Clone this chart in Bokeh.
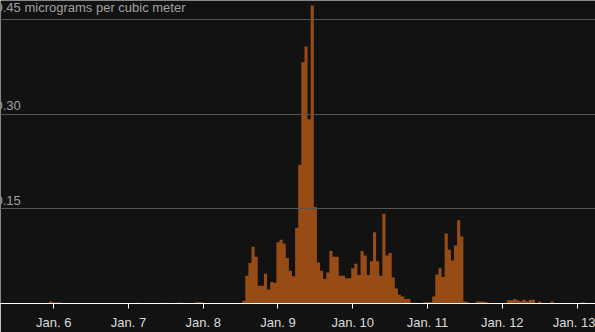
from bokeh.plotting import figure
from bokeh.models import Range1d, FixedTicker, Label, ColumnDataSource
from bokeh.embed import file_html
from bokeh.resources import INLINE

# Hourly concentration, index 0 = Jan. 5 00:00
values = [0.0] * 200
readings = {
    23: 0.003, 24: 0.0015, 25: 0.0015, 26: 0.0015,
    51: 0.001, 59: 0.001, 64: 0.001, 65: 0.001,
    70: 0.002, 71: 0.002, 72: 0.001,
    85: 0.004, 86: 0.044, 87: 0.064, 88: 0.090, 89: 0.074, 90: 0.028,
    91: 0.028, 92: 0.047, 93: 0.022, 94: 0.034, 95: 0.033,
    96: 0.097, 97: 0.101, 98: 0.095, 99: 0.072, 100: 0.052, 101: 0.043,
    102: 0.120, 103: 0.220, 104: 0.382, 105: 0.407, 106: 0.292, 107: 0.472,
    108: 0.153, 109: 0.065, 110: 0.052, 111: 0.039, 112: 0.049, 113: 0.083,
    114: 0.074, 115: 0.074, 116: 0.044, 117: 0.044, 118: 0.040, 119: 0.040,
    120: 0.056, 121: 0.063, 122: 0.045, 123: 0.083, 124: 0.076, 125: 0.045,
    126: 0.067, 127: 0.113, 128: 0.067, 129: 0.044, 130: 0.142, 131: 0.076,
    132: 0.080, 133: 0.041, 134: 0.024, 135: 0.014, 136: 0.011, 137: 0.007,
    138: 0.007, 139: 0.001, 140: 0.001, 143: 0.002, 144: 0.002, 145: 0.002,
    146: 0.011, 147: 0.046, 148: 0.056, 149: 0.042, 150: 0.111, 151: 0.085,
    152: 0.068, 153: 0.092, 154: 0.132, 155: 0.106, 156: 0.003, 157: 0.002,
    160: 0.003, 161: 0.003, 162: 0.003, 163: 0.002,
    170: 0.005, 171: 0.005, 172: 0.007, 173: 0.005, 174: 0.003, 175: 0.006,
    176: 0.003, 177: 0.006, 178: 0.006, 180: 0.003, 184: 0.003, 194: 0.002,
}
for k, v in readings.items():
    values[k] = v
hours = list(range(len(values)))

tick_hours = [24, 48, 72, 96, 120, 144, 168, 192]
tick_labels = ["Jan. 6", "Jan. 7", "Jan. 8", "Jan. 9", "Jan. 10", "Jan. 11", "Jan. 12", "Jan. 13"]
y_ticks = [0.15, 0.30, 0.45]
y_labels = ["0.15", "0.30", "0.45 micrograms per cubic meter"]

BG = "#121212"
FONT = "Liberation Sans"

p = figure(width=595, height=332, output_backend="svg", toolbar_location=None,
           x_range=Range1d(6.93, 197.92), y_range=Range1d(0, 0.48))
p.background_fill_color = BG
p.border_fill_color = BG
p.outline_line_color = None
p.min_border_left = 0
p.min_border_right = 0
p.min_border_top = 0
p.min_border_bottom = 28

src = ColumnDataSource(dict(x=hours, top=values))
p.varea_step(x="x", y1=0, y2="top", step_mode="center", source=src,
             fill_color="#984c15")

p.yaxis.visible = False
p.xgrid.visible = False
p.ygrid.ticker = FixedTicker(ticks=y_ticks)
p.ygrid.grid_line_color = "#555555"
p.ygrid.grid_line_width = 1
p.ygrid.level = "overlay"

xa = p.xaxis[0]
xa.ticker = FixedTicker(ticks=tick_hours)
xa.major_label_overrides = {h: l for h, l in zip(tick_hours, tick_labels)}
xa.axis_line_color = "#ffffff"
xa.axis_line_width = 1
xa.major_tick_line_color = "#ffffff"
xa.major_tick_out = 5
xa.major_tick_in = 0
xa.minor_tick_line_color = None
xa.major_label_standoff = 6
xa.major_label_text_color = "#dcdcdc"
xa.major_label_text_font = FONT
xa.major_label_text_font_size = "13px"

for yv, lab in zip(y_ticks, y_labels):
    p.add_layout(Label(x=-5, x_units="screen", y=yv, y_units="data", y_offset=4,
                       text=lab, text_color="#a0a0a0", text_font=FONT,
                       text_font_size="13px", text_baseline="bottom", text_align="left"))

open("out.html", "w").write(file_html(p, INLINE))
